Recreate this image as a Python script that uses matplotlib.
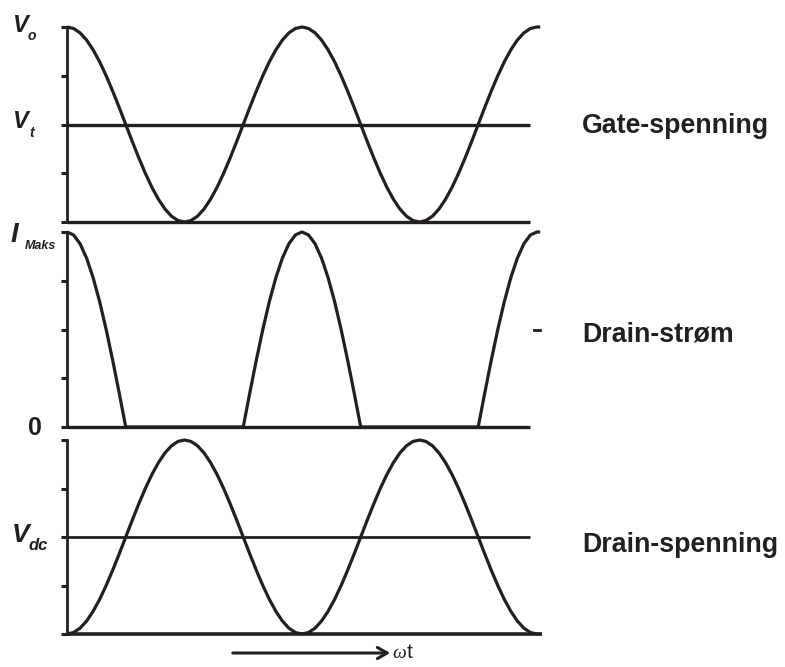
import numpy as np
import matplotlib.pyplot as plt
from matplotlib.patches import FancyArrowPatch

plt.rcParams['font.family'] = ['Liberation Sans', 'DejaVu Sans']

# phase of the drive signal in degrees (two full periods, plus a short flat tail)
phase = list(range(0, 721, 10)) + [725]

# gate voltage, relative to V_t (+1 = V_o)
gate = [1.000, 0.985, 0.940, 0.866, 0.766, 0.643, 0.500, 0.342, 0.174, 0.000,
        -0.174, -0.342, -0.500, -0.643, -0.766, -0.866, -0.940, -0.985, -1.000,
        -0.985, -0.940, -0.866, -0.766, -0.643, -0.500, -0.342, -0.174, 0.000,
        0.174, 0.342, 0.500, 0.643, 0.766, 0.866, 0.940, 0.985,
        1.000, 0.985, 0.940, 0.866, 0.766, 0.643, 0.500, 0.342, 0.174, 0.000,
        -0.174, -0.342, -0.500, -0.643, -0.766, -0.866, -0.940, -0.985, -1.000,
        -0.985, -0.940, -0.866, -0.766, -0.643, -0.500, -0.342, -0.174, 0.000,
        0.174, 0.342, 0.500, 0.643, 0.766, 0.866, 0.940, 0.985,
        1.000, 1.000]

# drain current, relative to I_Maks
current = [1.000, 0.985, 0.940, 0.866, 0.766, 0.643, 0.500, 0.342, 0.174, 0.000,
           0.000, 0.000, 0.000, 0.000, 0.000, 0.000, 0.000, 0.000, 0.000,
           0.000, 0.000, 0.000, 0.000, 0.000, 0.000, 0.000, 0.000, 0.000,
           0.174, 0.342, 0.500, 0.643, 0.766, 0.866, 0.940, 0.985,
           1.000, 0.985, 0.940, 0.866, 0.766, 0.643, 0.500, 0.342, 0.174, 0.000,
           0.000, 0.000, 0.000, 0.000, 0.000, 0.000, 0.000, 0.000, 0.000,
           0.000, 0.000, 0.000, 0.000, 0.000, 0.000, 0.000, 0.000, 0.000,
           0.174, 0.342, 0.500, 0.643, 0.766, 0.866, 0.940, 0.985,
           1.000, 1.000]

# drain voltage, relative to V_dc
drain = [-1.000, -0.985, -0.940, -0.866, -0.766, -0.643, -0.500, -0.342, -0.174, 0.000,
         0.174, 0.342, 0.500, 0.643, 0.766, 0.866, 0.940, 0.985, 1.000,
         0.985, 0.940, 0.866, 0.766, 0.643, 0.500, 0.342, 0.174, 0.000,
         -0.174, -0.342, -0.500, -0.643, -0.766, -0.866, -0.940, -0.985,
         -1.000, -0.985, -0.940, -0.866, -0.766, -0.643, -0.500, -0.342, -0.174, 0.000,
         0.174, 0.342, 0.500, 0.643, 0.766, 0.866, 0.940, 0.985, 1.000,
         0.985, 0.940, 0.866, 0.766, 0.643, 0.500, 0.342, 0.174, 0.000,
         -0.174, -0.342, -0.500, -0.643, -0.766, -0.866, -0.940, -0.985,
         -1.000, -1.000]

panel_titles = ['Gate-spenning', 'Drain-strøm', 'Drain-spenning']

W, H = 785, 667
fig = plt.figure(figsize=(W / 100, H / 100), dpi=100)


def fx(px):
    return px / W


def fy(py):
    return 1 - py / H


def make_axes(top, bottom, ylim, ticks):
    ax = fig.add_axes([fx(67), fy(bottom), (550 - 67) / W, (bottom - top) / H])
    ax.set_xlim(0, 740)
    ax.set_ylim(*ylim)
    for s in ['top', 'right', 'bottom']:
        ax.spines[s].set_visible(False)
    ax.spines['left'].set_linewidth(2.0)
    ax.spines['left'].set_color('#231f20')
    ax.set_xticks([])
    ax.set_yticks(ticks)
    ax.set_yticklabels([])
    ax.tick_params(axis='y', direction='out', length=4.5, width=2.2, color='#231f20')
    ax.patch.set_visible(False)
    return ax


col = '#231f20'
lw = 2.3
curve_kw = dict(color=col, lw=lw, clip_on=False, solid_capstyle='butt',
                solid_joinstyle='round')

# gate voltage
ax1 = make_axes(27, 222, (-1, 1), [-1, -0.5, 0, 0.5, 1])
ax1.plot(phase, gate, **curve_kw)
ax1.plot([0, 710], [0, 0], color=col, lw=2.4, clip_on=False, solid_capstyle='butt')
ax1.plot([0, 710], [-1, -1], color=col, lw=2.4, clip_on=False, solid_capstyle='butt')

# drain current
ax2 = make_axes(232, 427, (0, 1), [0, 0.25, 0.5, 0.75, 1])
ax2.plot(phase, current, **curve_kw)
ax2.plot([0, 710], [0, 0], color=col, lw=2.4, clip_on=False, solid_capstyle='butt')
ax2.plot([716, 724], [0.5, 0.5], color=col, lw=2.0, clip_on=False)

# drain voltage
ax3 = make_axes(440, 634, (-1, 1), [-1, -0.5, 0, 0.5, 1])
ax3.plot(phase, drain, **curve_kw)
ax3.plot([0, 710], [0, 0], color=col, lw=2.0, clip_on=False, solid_capstyle='butt')
ax3.plot([0, 727], [-1, -1], color=col, lw=2.6, clip_on=False, solid_capstyle='butt')

# left-hand labels
bi = dict(fontweight='bold', fontstyle='italic', color=col)
fig.text(fx(12), fy(26), 'V', fontsize=17, va='center', ha='left', **bi)
fig.text(fx(28), fy(36), 'o', fontsize=10, va='center', ha='left', **bi)
fig.text(fx(12), fy(122), 'V', fontsize=17, va='center', ha='left', **bi)
fig.text(fx(29), fy(133), 't', fontsize=10, va='center', ha='left', **bi)
fig.text(fx(11), fy(235), 'I', fontsize=20, va='center', ha='left', **bi)
fig.text(fx(25), fy(246), 'Maks', fontsize=9, va='center', ha='left', **bi)
fig.text(fx(28), fy(428), '0', fontsize=18, va='center', ha='left',
         fontweight='bold', color=col)
fig.text(fx(12), fy(535), 'V', fontsize=19, va='center', ha='left', **bi)
fig.text(fx(29), fy(546), 'dc', fontsize=12, va='center', ha='left', **bi)

# right-hand panel titles
for title, yc in zip(panel_titles, [126, 334, 545]):
    fig.text(fx(582), fy(yc), title, fontsize=19.3, va='center', ha='left',
             fontweight='bold', color=col)

# time arrow
fig.patches.append(FancyArrowPatch(
    (fx(230), fy(653)), (fx(393), fy(653)), transform=fig.transFigure,
    arrowstyle='->,head_length=7,head_width=4', lw=2.2, color=col))
fig.text(fx(392), fy(658), 'ω', fontsize=14, va='baseline', ha='left',
         family='Liberation Serif', fontstyle='italic', color=col)
fig.text(fx(407), fy(658), 't', fontsize=15, va='baseline', ha='left', color=col)

fig.savefig('out.png', dpi=100, facecolor='white')
